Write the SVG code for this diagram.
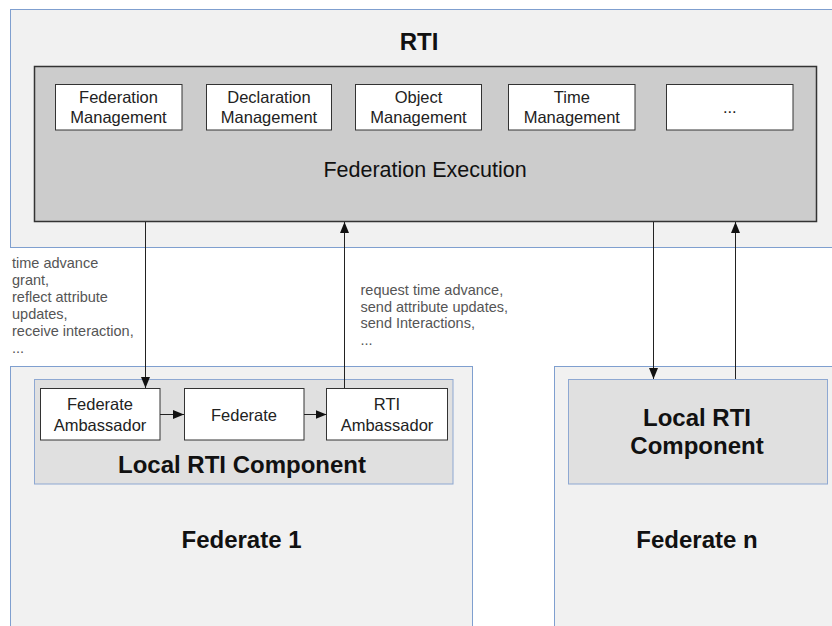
<svg xmlns="http://www.w3.org/2000/svg" width="832" height="626" viewBox="0 0 832 626">
  <defs>
    <marker id="arrow" viewBox="0 0 10 10" refX="10" refY="5" markerWidth="11" markerHeight="9" markerUnits="userSpaceOnUse" orient="auto" preserveAspectRatio="none">
      <path d="M0,0 L10,5 L0,10 Z" fill="#111"/>
    </marker>
  </defs>
  <style>
    .container { fill: #f1f1f1; stroke: #7f9fcf; stroke-width: 1; }
    .exec { fill: #cccccc; stroke: #333; stroke-width: 1.5; }
    .local { fill: #e0e0e0; stroke: #8ea8d2; stroke-width: 1; }
    .box { fill: #ffffff; stroke: #333; stroke-width: 1; }
    text { font-family: "Liberation Sans", Arial, sans-serif; fill: #111; text-anchor: middle; }
    .title { font-size: 24px; font-weight: bold; }
    .rti { font-size: 24px; font-weight: bold; }
    .mid { font-size: 21.5px; }
    .lbl { font-size: 16.5px; fill: #222; }
    .note { font-size: 14.5px; fill: #555; text-anchor: start; }
    .conn { stroke: #222; stroke-width: 1; fill: none; }
  </style>
  <rect width="832" height="626" fill="#ffffff"/>

  <g id="rti">
    <rect class="container" x="10.5" y="9.5" width="840" height="238"/>
    <text class="rti" x="419" y="50">RTI</text>
  </g>

  <g id="federation-execution">
    <rect class="exec" x="34.5" y="66.5" width="782" height="155"/>
    <text class="mid" x="425" y="177">Federation Execution</text>
  </g>

  <g id="federation-management">
    <rect class="box" x="55.5" y="84.5" width="126.5" height="45.5"/>
    <text class="lbl" x="118.5" y="103">Federation</text>
    <text class="lbl" x="118.5" y="123">Management</text>
  </g>
  <g id="declaration-management">
    <rect class="box" x="206.5" y="84.5" width="125" height="45.5"/>
    <text class="lbl" x="269" y="103">Declaration</text>
    <text class="lbl" x="269" y="123">Management</text>
  </g>
  <g id="object-management">
    <rect class="box" x="355.5" y="84.5" width="126" height="45.5"/>
    <text class="lbl" x="418.5" y="103">Object</text>
    <text class="lbl" x="418.5" y="123">Management</text>
  </g>
  <g id="time-management">
    <rect class="box" x="508.5" y="84.5" width="126.5" height="45.5"/>
    <text class="lbl" x="571.8" y="103">Time</text>
    <text class="lbl" x="571.8" y="123">Management</text>
  </g>
  <g id="more-services">
    <rect class="box" x="666.5" y="84.5" width="126.5" height="45.5"/>
    <text class="lbl" x="729.8" y="113">...</text>
  </g>

  <g id="federate-1">
    <rect class="container" x="10.5" y="366.5" width="462" height="300"/>
    <text class="title" x="241.5" y="548">Federate 1</text>
  </g>
  <g id="local-rti-component-1">
    <rect class="local" x="34.5" y="379.5" width="418.5" height="104.5"/>
    <text class="title" x="242" y="473">Local RTI Component</text>
  </g>
  <g id="federate-ambassador">
    <rect class="box" x="40.5" y="388.5" width="119.5" height="51.5"/>
    <text class="lbl" x="100" y="410">Federate</text>
    <text class="lbl" x="100" y="431">Ambassador</text>
  </g>
  <g id="federate">
    <rect class="box" x="184.5" y="388.5" width="119.5" height="51.5"/>
    <text class="lbl" x="244" y="421">Federate</text>
  </g>
  <g id="rti-ambassador">
    <rect class="box" x="326.5" y="388.5" width="121" height="51.5"/>
    <text class="lbl" x="387" y="410">RTI</text>
    <text class="lbl" x="387" y="431">Ambassador</text>
  </g>

  <g id="federate-n">
    <rect class="container" x="554.5" y="366.5" width="300" height="300"/>
    <text class="title" x="697" y="548">Federate n</text>
  </g>
  <g id="local-rti-component-n">
    <rect class="local" x="568.5" y="379.5" width="259" height="104.5"/>
    <text class="title" x="697" y="426">Local RTI</text>
    <text class="title" x="697" y="454">Component</text>
  </g>

  <g id="connectors">
    <line class="conn" x1="145.5" y1="222" x2="145.5" y2="388" marker-end="url(#arrow)"/>
    <line class="conn" x1="344.5" y1="388" x2="344.5" y2="222" marker-end="url(#arrow)"/>
    <line class="conn" x1="653.5" y1="222" x2="653.5" y2="379" marker-end="url(#arrow)"/>
    <line class="conn" x1="735.5" y1="379" x2="735.5" y2="222" marker-end="url(#arrow)"/>
    <line class="conn" x1="160" y1="414.5" x2="184" y2="414.5" marker-end="url(#arrow)"/>
    <line class="conn" x1="304" y1="414.5" x2="326.5" y2="414.5" marker-end="url(#arrow)"/>
  </g>

  <g id="labels">
    <text class="note" x="12" y="268">time advance</text>
    <text class="note" x="12" y="285">grant,</text>
    <text class="note" x="12" y="302">reflect attribute</text>
    <text class="note" x="12" y="319">updates,</text>
    <text class="note" x="12" y="336">receive interaction,</text>
    <text class="note" x="12" y="353">...</text>
    <text class="note" x="360.5" y="295">request time advance,</text>
    <text class="note" x="360.5" y="311.5">send attribute updates,</text>
    <text class="note" x="360.5" y="328">send Interactions,</text>
    <text class="note" x="360.5" y="345">...</text>
  </g>
</svg>
